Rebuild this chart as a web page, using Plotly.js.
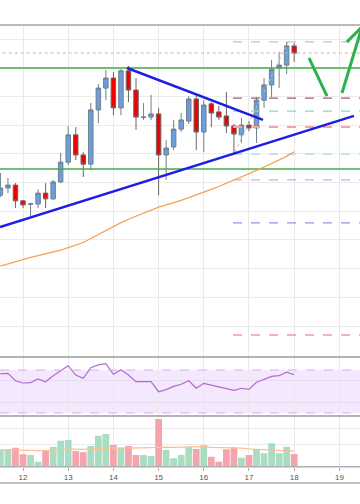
<!DOCTYPE html>
<html><head><meta charset="utf-8">
<script src="https://cdn.plot.ly/plotly-3.0.1.min.js"></script>
<style>html,body{margin:0;padding:0;background:#fff;}#chart{width:360px;height:504px;}</style>
</head><body><div id="chart"></div>
<script>
// 4-hour candles, time in fractional days of the month
const times = [11.5,11.667,11.833,12,12.167,12.333,12.5,12.667,12.833,13,13.167,13.333,13.5,13.667,13.833,14,14.167,14.333,14.5,14.667,14.833,15,15.167,15.333,15.5,15.667,15.833,16,16.167,16.333,16.5,16.667,16.833,17,17.167,17.333,17.5,17.667,17.833,18];
const openP  = [205.6,208.1,209.1,203.6,202.4,202.5,206.3,204.3,210.2,217.1,226.6,219.6,216.4,235.3,242.9,246.4,236.0,248.9,242.2,232.7,232.8,233.9,219.6,222.4,228.6,231.4,239.1,227.6,237.4,234.6,233.2,229.7,226.6,230.0,229.0,238.7,244.0,249.9,250.9,257.6];
const highP  = [213.3,211.6,209.8,203.9,202.9,207.7,209.8,210.9,220.3,229.7,229.3,220.6,237.7,244.3,249.2,248.5,249.5,250.6,246.4,237.7,240.5,236.0,224.8,231.8,234.2,240.1,240.5,238.7,238.0,236.7,241.5,230.4,232.5,231.4,239.8,246.4,252.7,255.5,259.0,258.6];
const lowP   = [204.9,206.3,201.1,201.1,198.3,201.1,201.1,203.9,209.8,216.1,217.8,211.9,214.4,230.7,238.7,233.5,233.5,238.0,228.3,231.8,231.8,205.6,210.9,221.3,227.6,230.4,221.3,220.6,229.3,231.8,227.2,220.3,223.8,227.9,223.8,236.0,239.8,242.9,247.8,252.0];
const closeP = [208.1,209.1,203.6,202.2,202.6,206.3,204.3,210.2,217.1,226.6,219.6,216.4,235.3,242.9,246.4,236.0,248.9,242.2,232.8,232.8,233.9,219.6,222.0,228.6,231.8,239.1,227.6,237.0,234.2,232.8,229.7,226.9,230.0,229.0,238.7,244.0,249.5,250.9,257.6,255.1];
const maPrice = [180.9,181.7,182.5,183.3,183.9,184.5,185.1,185.6,186.4,187.3,188.2,189.1,190.5,191.9,193.4,194.7,196.0,197.2,198.3,199.4,200.5,201.4,202.2,202.9,203.8,204.7,205.6,206.6,207.6,208.6,209.7,210.7,211.8,213.0,214.2,215.4,216.6,217.7,219.1,220.7];
const rsi = [66.3,66.9,60.0,57.9,58.2,61.6,59.1,64.7,69.3,74.0,65.3,62.3,72.1,74.7,75.9,66.0,70.3,65.3,59.1,59.1,59.1,49.8,51.7,54.8,56.7,60.0,53.0,57.6,56.0,54.8,53.0,51.1,53.0,52.0,58.6,61.6,64.1,64.7,67.9,65.6];
const volume = [668,708,760,496,468,200,668,800,1040,1068,628,576,828,1240,1308,868,736,828,468,468,428,1908,668,336,468,800,708,868,400,200,696,776,360,468,708,536,936,536,800,508];
const volumeMA = [680,672,664,650,636,624,630,660,700,716,700,690,716,740,744,740,736,736,744,752,760,784,780,776,784,790,796,800,776,770,764,752,740,710,690,660,640,630,630,630];
const dayTicks = [12,13,14,15,16,17,18,19];
const dayLabels = ['12','13','14','15','16','17','18','19'];

// drawings
const greenLevels = [249.9, 214.7];
const redDottedLevel = 255.1;
const fibStartX = 16.646;
const fibLevels = [259.0, 239.4, 234.9, 229.3, 219.9, 210.9, 195.9, 156.9];
const fibColors = ['#c4c4c4','#9c5d6e','#86d9c6','#f5a3a3','#acd6f2','#d7a3f7','#9393ea','#f29a9a'];
const fibWidths = [1.2,1.2,1.2,2,1.2,1.2,1.2,1.5];
const fibDiagX = [16.69, 17.863];
const fibDiagY = [220.6, 259.0];
const upperTrendX = [14.301, 17.31];
const upperTrendY = [249.9, 231.8];
const lowerTrendX = [11.491, 19.323];
const lowerTrendY = [194.5, 233.2];
const arrowDownX = [18.327, 18.726];
const arrowDownY = [253.4, 240.1];
const arrowUpX = [19.058, 19.5];
const arrowUpY = [241.2, 264.2];
const arrowWingX = [19.168, 19.5];
const arrowWingY = [259.0, 264.2];

const xRange = [11.491, 19.456];
const priceRange = [149.2, 264.88];
const rsiRange = [27.2, 82.09];
const volRange = [0, 2028];
const priceGrid = [160,170,180,190,200,210,220,230,240,250,260];

const traces = [];
greenLevels.forEach(v => traces.push({type:'scatter',mode:'lines',x:[xRange[0]-1,xRange[1]+1],y:[v,v],line:{color:'#45ad4a',width:1.3},hoverinfo:'skip',showlegend:false}));
traces.push({type:'scatter',mode:'lines',x:[xRange[0]-1,xRange[1]+1],y:[redDottedLevel,redDottedLevel],line:{color:'#f2a0a0',width:1,dash:'dot'},hoverinfo:'skip',showlegend:false});
fibLevels.forEach((v,i) => traces.push({type:'scatter',mode:'lines',x:[fibStartX,xRange[1]+1],y:[v,v],line:{color:fibColors[i],width:fibWidths[i],dash:'dash'},hoverinfo:'skip',showlegend:false}));
traces.push({type:'scatter',mode:'lines',x:fibDiagX,y:fibDiagY,line:{color:'#bdbdbd',width:1,dash:'dot'},hoverinfo:'skip',showlegend:false});
traces.push({type:'scatter',mode:'lines',x:times,y:maPrice,line:{color:'#f4a24e',width:1.3},hoverinfo:'skip',showlegend:false});
traces.push({type:'candlestick',x:times,open:openP,high:highP,low:lowP,close:closeP,
  increasing:{fillcolor:'#6b9fdc',line:{color:'#6f7f8e',width:1}},
  decreasing:{fillcolor:'#f20000',line:{color:'#6f6262',width:1}},
  whiskerwidth:0,showlegend:false,hoverinfo:'skip'});
traces.push({type:'scatter',mode:'lines',x:upperTrendX,y:upperTrendY,line:{color:'#1d1de6',width:2.5},hoverinfo:'skip',showlegend:false});
traces.push({type:'scatter',mode:'lines',x:lowerTrendX,y:lowerTrendY,line:{color:'#1d1de6',width:2.5},hoverinfo:'skip',showlegend:false});
[[arrowDownX,arrowDownY],[arrowUpX,arrowUpY],[arrowWingX,arrowWingY]].forEach(a => traces.push({type:'scatter',mode:'lines',x:a[0],y:a[1],line:{color:'#2fb04c',width:3},hoverinfo:'skip',showlegend:false}));
// RSI
traces.push({type:'scatter',mode:'lines',x:times,y:rsi,xaxis:'x',yaxis:'y2',line:{color:'#b469cf',width:1.2},hoverinfo:'skip',showlegend:false});
// volume
const volColors = closeP.map((c,i) => c >= openP[i] ? '#a9ddc2' : '#f5a4ac');
traces.push({type:'bar',x:times,y:volume,xaxis:'x',yaxis:'y3',marker:{color:volColors,line:{width:0}},hoverinfo:'skip',showlegend:false});
traces.push({type:'scatter',mode:'lines',x:times,y:volumeMA,xaxis:'x',yaxis:'y3',line:{color:'#ffbf94',width:1.2},hoverinfo:'skip',showlegend:false});

const H = 504;
const py = px => 1 - px / H;
const border = (yy, col, w) => ({type:'line',xref:'paper',yref:'paper',x0:0,x1:1,y0:yy,y1:yy,line:{color:col,width:w}});

const layout = {
  width:360,height:504,margin:{l:0,r:0,t:0,b:0},
  paper_bgcolor:'#ffffff',plot_bgcolor:'#ffffff',
  showlegend:false,bargap:0.1,boxgap:0.15,
  xaxis:{domain:[0,1],range:xRange,anchor:'y3',tickvals:dayTicks,ticktext:dayLabels,showgrid:true,gridcolor:'#e9e9e9',gridwidth:1,
    zeroline:false,ticks:'outside',ticklen:3,tickcolor:'#aaaaaa',tickfont:{family:'Liberation Sans, Arial, sans-serif',size:8,color:'#555555'},
    rangeslider:{visible:false},showline:false,automargin:false,fixedrange:true},
  yaxis:{domain:[py(357),py(25)],range:priceRange,tickvals:priceGrid,showticklabels:false,gridcolor:'#ececec',zeroline:false,automargin:false,fixedrange:true},
  yaxis2:{domain:[py(416),py(357)],range:rsiRange,tickvals:[40,60],showticklabels:false,gridcolor:'#e6dcef',zeroline:false,automargin:false,fixedrange:true},
  yaxis3:{domain:[py(466.7),py(416)],range:volRange,tickvals:[900,1540],showticklabels:false,gridcolor:'#ececec',zeroline:false,automargin:false,fixedrange:true},
  shapes:[
    {type:'rect',xref:'paper',yref:'y2',x0:0,x1:1,y0:30,y1:70,fillcolor:'rgba(196,140,245,0.2)',line:{width:0},layer:'below'},
    {type:'line',xref:'paper',yref:'y2',x0:0,x1:1,y0:70,y1:70,line:{color:'#cfb3e2',width:1,dash:'dash'}},
    {type:'line',xref:'paper',yref:'y2',x0:0,x1:1,y0:30,y1:30,line:{color:'#cfb3e2',width:1,dash:'dash'}},
    border(py(25),'#a3a3a3',1.5),
    border(py(357),'#9a9a9a',1.5),
    border(py(416),'#9a9a9a',1.5),
    border(py(466.7),'#b0b0b0',1.5),
    border(py(483),'#ababab',1.5)
  ]
};
Plotly.newPlot('chart',traces,layout,{staticPlot:true,displayModeBar:false});
</script></body></html>
